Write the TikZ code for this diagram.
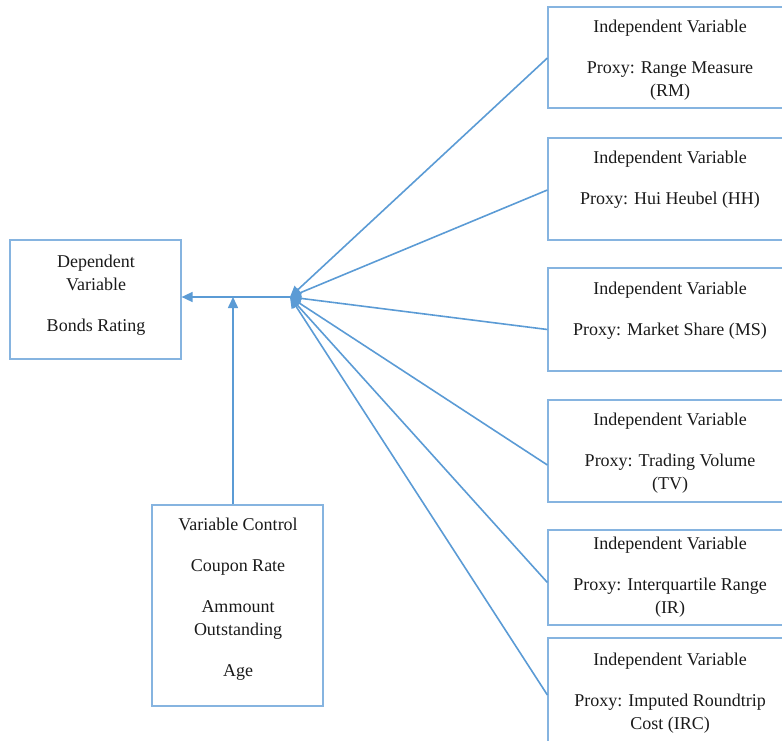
\documentclass[tikz,border=0pt]{standalone}
\usepackage{fontspec}
\setmainfont{Liberation Serif}
\usetikzlibrary{calc,arrows.meta}
\definecolor{arrowblue}{HTML}{5B9BD5}
\definecolor{boxblue}{HTML}{86B4E0}
\definecolor{ink}{HTML}{1A1A1A}
\tikzset{
  box/.style={draw=boxblue, line width=1.2pt, rectangle, inner sep=0pt},
  conn/.style={draw=arrowblue, line width=1.6pt, -{Triangle[length=11pt,width=10pt]}},
  lab/.style={text=ink, align=center, inner sep=0pt, anchor=north, font=\fontsize{18}{23}\selectfont},
}

\begin{document}
\begin{tikzpicture}[x=1pt,y=-1pt]
  \useasboundingbox (0,0) rectangle (782,740);
  \coordinate (j) at (290,297);
  \coordinate (k) at (233,297);

  % boxes
  \node[box, minimum width=171pt, minimum height=119pt] (dep) at (95.5,299.5) {};
  \node[box, minimum width=171pt, minimum height=201pt] (ctrl) at (237.5,605.5) {};
  \node[box, minimum width=244pt, minimum height=101pt] (rm) at (670,57.5) {};
  \node[box, minimum width=244pt, minimum height=102pt] (hh) at (670,189) {};
  \node[box, minimum width=244pt, minimum height=103pt] (ms) at (670,319.5) {};
  \node[box, minimum width=244pt, minimum height=102pt] (tv) at (670,451) {};
  \node[box, minimum width=244pt, minimum height=95pt] (ir) at (670,577.5) {};
  \node[box, minimum width=244pt, minimum height=114pt] (irc) at (670,695) {};

  % texts
  \node[lab] (deptxt) at (96,255) {Dependent\\Variable\\[18pt]Bonds Rating};
  \node[lab] (ctrltxt) at (238,518) {Variable Control\\[18pt]Coupon Rate\\[18pt]Ammount\\Outstanding\\[18pt]Age};
  \node[lab] (rmtxt) at (670,20) {Independent Variable\\[18pt]Proxy: Range Measure\\(RM)};
  \node[lab] (hhtxt) at (670,151) {Independent Variable\\[18pt]Proxy: Hui Heubel (HH)};
  \node[lab] (mstxt) at (670,282) {Independent Variable\\[18pt]Proxy: Market Share (MS)};
  \node[lab] (tvtxt) at (670,413) {Independent Variable\\[18pt]Proxy: Trading Volume\\(TV)};
  \node[lab] (irtxt) at (670,537) {Independent Variable\\[18pt]Proxy: Interquartile Range\\(IR)};
  \node[lab] (irctxt) at (670,653) {Independent Variable\\[18pt]Proxy: Imputed Roundtrip\\Cost (IRC)};

  % connectors
  \draw[conn] ($(rm.west)+(0,0.5)$) -- (j);
  \draw[conn] ($(hh.west)+(0,1)$) -- (j);
  \draw[conn] ($(ms.west)+(0,10)$) -- (j);
  \draw[conn] ($(tv.west)+(0,14)$) -- (j);
  \draw[conn] ($(ir.west)+(0,5)$) -- (j);
  \draw[conn] (irc.west) -- (j);
  \draw[conn] (j) -- (dep.east |- j);
  \draw[conn] (k |- ctrl.north) -- (k);
\end{tikzpicture}
\end{document}
